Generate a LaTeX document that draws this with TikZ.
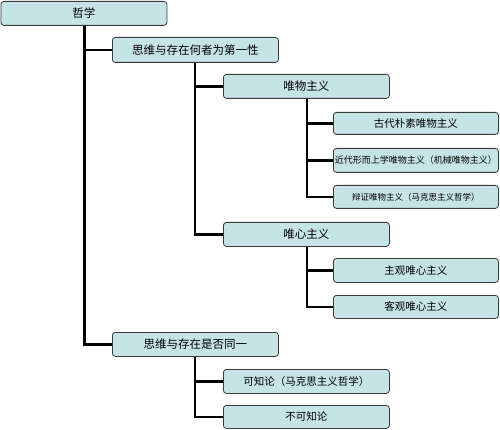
\documentclass[tikz,border=0pt]{standalone}
\usepackage{fontspec}
\setmainfont{Noto Sans CJK SC}
\definecolor{boxfill}{HTML}{C6E3E6}
\definecolor{boxline}{HTML}{3A3A3A}
\tikzset{
  box/.style={draw=boxline, line width=0.8pt, fill=boxfill, rounded corners=3pt, inner sep=0pt, anchor=north west, font=\fontsize{11.5}{12}\selectfont},
  link/.style={black, line width=2.4pt}
}
\begin{document}
\begin{tikzpicture}[x=1pt,y=-1pt]
\useasboundingbox (0,0) rectangle (500,430);
\fill[white] (0,0) rectangle (500,430);
% nodes
\node[box, minimum width=166pt, minimum height=24pt] (a) at (0.5,1) {哲学};
\node[box, minimum width=166pt, minimum height=25pt] (b) at (112,37) {思维与存在何者为第一性};
\node[box, minimum width=166pt, minimum height=24pt] (c) at (223,74) {唯物主义};
\node[box, minimum width=165pt, minimum height=22pt, font=\fontsize{10.5}{11}\selectfont] (c1) at (333,112) {古代朴素唯物主义};
\node[box, minimum width=165pt, minimum height=24pt, font=\fontsize{9}{10}\selectfont] (c2) at (333,148) {近代形而上学唯物主义（机械唯物主义）};
\node[box, minimum width=165pt, minimum height=23pt, font=\fontsize{8.5}{9}\selectfont] (c3) at (333,185) {辩证唯物主义（马克思主义哲学）};
\node[box, minimum width=166pt, minimum height=24pt] (d) at (223,222) {唯心主义};
\node[box, minimum width=165pt, minimum height=24pt, font=\fontsize{10.5}{11}\selectfont] (d1) at (333,258) {主观唯心主义};
\node[box, minimum width=165pt, minimum height=23pt, font=\fontsize{10.5}{11}\selectfont] (d2) at (333,295) {客观唯心主义};
\node[box, minimum width=166pt, minimum height=24pt] (e) at (112,332) {思维与存在是否同一};
\node[box, minimum width=166pt, minimum height=24pt, font=\fontsize{10.5}{11}\selectfont] (e1) at (223,369) {可知论（马克思主义哲学）};
\node[box, minimum width=166pt, minimum height=23pt, font=\fontsize{10.5}{11}\selectfont] (e2) at (223,405) {不可知论};
% connectors
\draw[link] (a.south west) ++(84,0) coordinate (a0) |- (b.west);
\draw[link] (a0) |- (e.west);
\draw[link] (b.south west) ++(83,0) coordinate (b0) |- (c.west);
\draw[link] (b0) |- (d.west);
\draw[link] (c.south west) ++(84,0) coordinate (c0) |- (c1.west);
\draw[link] (c0) |- (c2.west);
\draw[link] (c0) |- (c3.west);
\draw[link] (d.south west) ++(84,0) coordinate (d0) |- (d1.west);
\draw[link] (d0) |- (d2.west);
\draw[link] (e.south west) ++(83,0) coordinate (e0) |- (e1.west);
\draw[link] (e0) |- (e2.west);
\end{tikzpicture}
\end{document}
